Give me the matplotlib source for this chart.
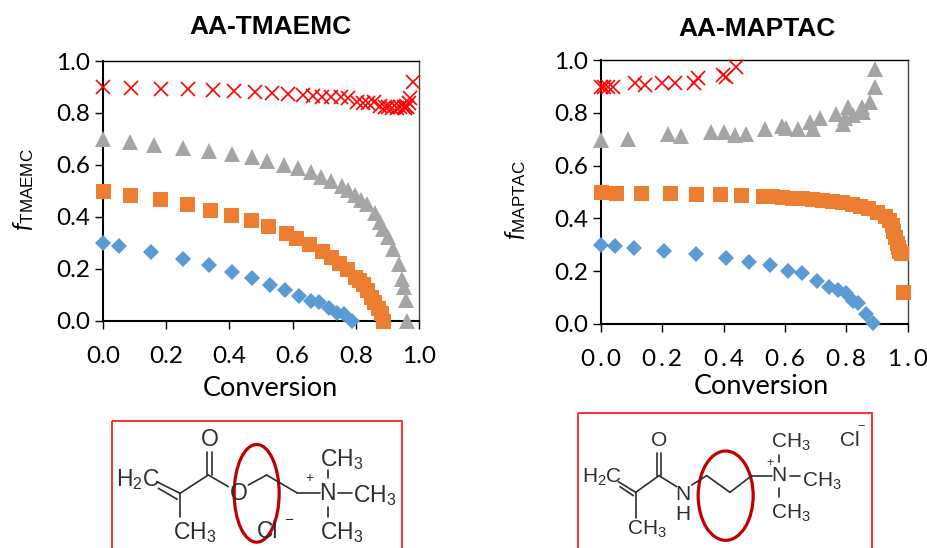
import matplotlib
matplotlib.use("Agg")
import matplotlib.pyplot as plt
from matplotlib.patches import Ellipse, Rectangle

plt.rcParams["font.family"] = ["Lato", "DejaVu Sans"]
plt.rcParams["mathtext.fontset"] = "custom"
plt.rcParams["mathtext.rm"] = "Liberation Sans"
plt.rcParams["mathtext.it"] = "Lato:italic"

# AA-TMAEMC
left_blue_x = [0, .052, .153, .254, .335, .409, .472, .529, .576, .620, .658, .683, .716, .741, .763, .787]
left_blue_y = [.30, .288, .266, .238, .215, .188, .165, .139, .118, .095, .075, .071, .048, .031, .025, 0]
left_orange_x = [0, .084, .180, .265, .339, .404, .468, .523, .579, .612, .653, .692, .721, .748, .771, .797, .810, .822, .835, .847, .857, .870, .881, .887]
left_orange_y = [.499, .484, .469, .449, .427, .407, .388, .365, .336, .317, .294, .268, .244, .221, .199, .169, .155, .140, .118, .092, .073, .050, .028, 0]
left_gray_x = [0, .086, .162, .254, .336, .407, .472, .520, .573, .616, .657, .690, .721, .755, .776, .797, .818, .834, .861, .877, .887, .903, .919, .937, .947, .953, .958, .963]
left_gray_y = [.698, .687, .675, .664, .654, .641, .632, .616, .601, .587, .571, .555, .538, .519, .503, .484, .465, .449, .413, .381, .355, .323, .278, .218, .159, .128, .079, 0]
left_red_x = [0, .090, .183, .270, .347, .416, .481, .536, .586, .634, .665, .692, .720, .752, .774, .803, .824, .840, .858, .877, .893, .903, .914, .930, .940, .951, .956, .959, .963, .967, .970, .980]
left_red_y = [.899, .896, .893, .892, .888, .886, .882, .878, .873, .870, .865, .863, .861, .863, .856, .843, .837, .840, .842, .827, .822, .824, .818, .818, .822, .824, .818, .827, .822, .837, .856, .920]

# AA-MAPTAC
right_blue_x = [0, .045, .107, .207, .311, .409, .484, .552, .611, .656, .705, .745, .772, .798, .821, .839, .864, .888]
right_blue_y = [.299, .294, .289, .277, .263, .248, .234, .224, .201, .194, .163, .139, .128, .118, .086, .080, .037, .004]
right_orange_x = [0, .051, .132, .225, .311, .390, .458, .528, .557, .590, .622, .655, .687, .720, .752, .785, .818, .845, .872, .899, .926, .938, .948, .953, .958, .964, .970, .973, .977, .984]
right_orange_y = [.499, .497, .497, .496, .494, .491, .489, .485, .484, .482, .479, .477, .473, .471, .467, .463, .456, .448, .439, .424, .408, .395, .375, .351, .328, .306, .290, .275, .268, .122]
right_gray_x = [0, .090, .218, .263, .359, .401, .438, .473, .535, .589, .604, .644, .682, .692, .714, .765, .790, .796, .805, .823, .850, .856, .877, .894, .894]
right_gray_y = [.697, .700, .720, .713, .729, .727, .716, .719, .738, .752, .742, .739, .765, .739, .780, .797, .758, .780, .823, .791, .823, .805, .840, .897, .967]
right_red_x = [0, .011, .025, .041, .112, .144, .199, .242, .304, .318, .397, .408, .441]
right_red_y = [.897, .897, .900, .900, .913, .906, .915, .915, .915, .932, .944, .935, .973]

ticks = [0, 0.2, 0.4, 0.6, 0.8, 1.0]
tick_labels = ["0.0", "0.2", "0.4", "0.6", "0.8", "1.0"]
spaced_labels = ["0\u2009.\u20090", "0\u2009.\u20092", "0\u2009.\u20094", "0\u2009.\u20096", "0\u2009.\u20098", "1\u2009.\u20090"]

W, H = 927, 548
fig = plt.figure(figsize=(W / 100, H / 100), dpi=100)


def make_axes(x0, x1, y_top, y_bottom):
    ax = fig.add_axes([x0 / W, 1 - y_bottom / H, (x1 - x0) / W, (y_bottom - y_top) / H])
    ax.set_xlim(0, 1)
    ax.set_ylim(0, 1)
    ax.set_xticks(ticks)
    ax.set_yticks(ticks)
    ax.set_yticklabels(tick_labels)
    ax.tick_params(direction="out", length=6, width=1, labelsize=17.5, color="black")
    ax.tick_params(axis="y", pad=3)
    ax.tick_params(axis="x", pad=12)
    for side in ["left", "bottom"]:
        ax.spines[side].set_linewidth(1.5)
    ax.spines["top"].set_linewidth(1)
    ax.spines["right"].set_linewidth(1)
    ax.spines["right"].set_color("#444444")
    return ax


def draw_series(ax, blue, orange, gray, red):
    ax.plot(blue[0], blue[1], "D", color="#5B9BD5", ms=8.5, mew=0, clip_on=False, zorder=3)
    ax.plot(orange[0], orange[1], "s", color="#ED7D31", ms=10.8, mew=0, clip_on=False, zorder=3)
    ax.plot(gray[0], gray[1], "^", color="#A5A5A5", ms=12, mew=0, clip_on=False, zorder=3)
    ax.plot(red[0], red[1], "x", color="#FF0000", ms=10, mew=1.2, clip_on=False, zorder=3)


ax1 = make_axes(103, 419, 61, 320.7)
ax1.set_xticklabels(tick_labels)
draw_series(ax1, (left_blue_x, left_blue_y), (left_orange_x, left_orange_y),
            (left_gray_x, left_gray_y), (left_red_x, left_red_y))

ax2 = make_axes(600.7, 907.7, 60.3, 323.7)
ax2.set_xticklabels(spaced_labels)
draw_series(ax2, (right_blue_x, right_blue_y), (right_orange_x, right_orange_y),
            (right_gray_x, right_gray_y), (right_red_x, right_red_y))

# overlay in pixel coordinates for titles, labels and the structures
over = fig.add_axes([0, 0, 1, 1], zorder=5)
over.set_xlim(0, W)
over.set_ylim(H, 0)
over.axis("off")
over.patch.set_alpha(0)

over.text(270, 27, "AA-TMAEMC", ha="center", va="center", fontsize=19, fontweight="bold", family="Liberation Sans")
over.text(757, 28.5, "AA-MAPTAC", ha="center", va="center", fontsize=19, fontweight="bold", family="Liberation Sans")
over.text(270, 388, "Conversion", ha="center", va="center", fontsize=19.5)
over.text(761, 386, "Conversion", ha="center", va="center", fontsize=19.5)
over.text(24, 190, r"$\mathit{f}_{\mathrm{TMAEMC}}$", rotation=90, ha="center", va="center", fontsize=17.5)
over.text(516, 200, r"$\mathit{f}_{\mathrm{MAPTAC}}$", rotation=90, ha="center", va="center", fontsize=17.5)

STRUCT = "#2e2e2e"


def bonds(ox, oy, segments):
    # segments are given in the 3x zoom units of each structure box
    for (xa, ya, xb, yb) in segments:
        over.plot([ox + xa / 3, ox + xb / 3], [oy + ya / 3, oy + yb / 3], color=STRUCT, lw=1.2, solid_capstyle="round")


def labels(ox, oy, items):
    for (x, y, s, size) in items:
        over.text(ox + x / 3, oy + y / 3, s, ha="center", va="center", fontsize=size, color=STRUCT, family="Liberation Sans")


CH3 = r"CH$_{\mathrm{3}}$"
H2C = r"H$_{\mathrm{2}}$C"

over.add_patch(Rectangle((111.7, 421), 290, 140, fill=False, ec="#FF2020", lw=1.3))
bonds(100, 410, [(170, 215, 240, 250), (175, 235, 232, 268), (240, 250, 325, 195), (320, 195, 320, 125),
                 (335, 195, 335, 125), (325, 195, 385, 230), (445, 225, 500, 195), (500, 195, 590, 248),
                 (590, 248, 660, 248), (715, 248, 755, 248), (685, 180, 685, 205), (685, 290, 685, 320),
                 (240, 250, 240, 320)])
labels(100, 410, [(115, 208, H2C, 16.5), (330, 88, "O", 16.5), (415, 250, "O", 16.5), (683, 250, "N", 16.5),
                  (825, 258, CH3, 16.5), (725, 148, CH3, 16.5), (725, 368, CH3, 16.5), (285, 368, CH3, 16.5),
                  (503, 365, "Cl", 16.5), (565, 330, "\u2212", 11), (627, 205, "+", 10)])
over.add_patch(Ellipse((100 + 470 / 3, 410 + 250 / 3), 135 / 3, 293 / 3, fill=False, ec="#C00000", lw=2.3))

over.add_patch(Rectangle((578, 413), 293.7, 150, fill=False, ec="#FF2020", lw=1.3))
bonds(570, 405, [(145, 230, 197, 262), (150, 245, 190, 272), (197, 262, 267, 212), (262, 212, 262, 145),
                 (273, 212, 273, 145), (267, 212, 320, 245), (365, 240, 410, 212), (410, 212, 480, 262),
                 (480, 262, 545, 212), (545, 212, 605, 212), (628, 150, 628, 170), (628, 250, 628, 275),
                 (660, 212, 690, 212), (197, 262, 197, 340)])
labels(570, 405, [(95, 218, H2C, 15), (267, 108, "O", 15), (338, 268, "N", 15), (338, 330, "H", 15),
                  (627, 212, "N", 15), (755, 228, CH3, 15), (662, 113, CH3, 15), (662, 325, CH3, 15),
                  (230, 372, CH3, 15), (838, 108, "Cl", 15), (873, 65, "\u2212", 9), (600, 175, "+", 9)])
over.add_patch(Ellipse((570 + 467 / 3, 405 + 272 / 3), 165 / 3, 268 / 3, fill=False, ec="#C00000", lw=2.3))

fig.savefig("out.png", dpi=100)
